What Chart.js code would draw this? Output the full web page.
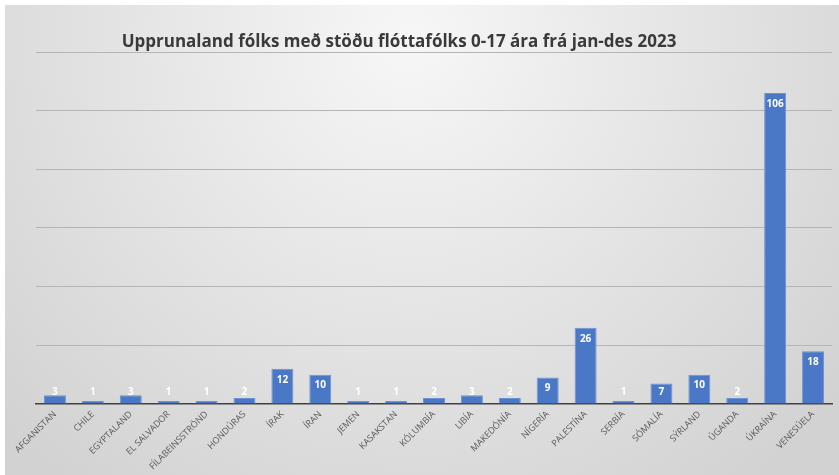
<!DOCTYPE html>
<html>
<head>
<meta charset="utf-8">
<script src="https://cdn.jsdelivr.net/npm/chart.js@4.4.1/dist/chart.umd.min.js"></script>
<style>
  html,body{margin:0;padding:0;background:#fff;}
  #wrap{width:839px;height:475px;position:relative;}
</style>
</head>
<body>
<div id="wrap"><canvas id="refugeeChart"></canvas></div>
<script>
// ============================================================
//  DATA
// ============================================================
const chartTitle='Upprunaland fólks með stöðu flóttafólks 0-17 ára frá jan-des 2023';
const countries=['AFGANISTAN','CHILE','EGYPTALAND','EL SALVADOR','FÍLABEINSSTRÖND','HONDÚRAS','ÍRAK','ÍRAN','JEMEN','KASAKSTAN','KÓLUMBÍA','LIBÍA','MAKEDÓNÍA','NÍGERÍA','PALESTÍNA','SERBÍA','SÓMALÍA','SÝRLAND','ÚGANDA','ÚKRAÍNA','VENESÚELA'];
const counts=[3,1,3,1,1,2,12,10,1,1,2,3,2,9,26,1,7,10,2,106,18];
const yMax=120;
const yStep=20;

// ============================================================
//  PLUGINS
// ============================================================
const bgPlugin={
  id:'bg',
  beforeDraw(chart){
    const c=chart.ctx,w=chart.width,h=chart.height;
    c.save();
    c.fillStyle='#ffffff';
    c.fillRect(0,0,w,h);
    const g=c.createRadialGradient(410,40,10,410,40,560);
    g.addColorStop(0,'#f6f6f6');
    g.addColorStop(1,'#d2d2d2');
    c.fillStyle=g;
    c.fillRect(5,5,w-5,h-5);
    c.restore();
  }
};
const titlePlugin={
  id:'ownTitle',
  afterDraw(chart){
    const c=chart.ctx;
    c.save();
    c.fillStyle='#3a3a3a';
    c.font='bold 17px "Open Sans", sans-serif';
    c.textAlign='center';
    c.textBaseline='middle';
    c.fillText(chartTitle,399,42);
    c.restore();
  }
};
const valuePlugin={
  id:'values',
  afterDatasetsDraw(chart){
    const c=chart.ctx;
    const meta=chart.getDatasetMeta(0);
    c.save();
    c.fillStyle='#ffffff';
    c.font='bold 10px "Open Sans", sans-serif';
    c.textAlign='center';
    c.textBaseline='middle';
    meta.data.forEach((bar,i)=>{
      const y=Math.min(bar.y+11,bar.base-11);
      c.fillText(String(counts[i]),bar.x,y);
    });
    c.restore();
  }
};

// ============================================================
//  CHART
// ============================================================
new Chart(document.getElementById('refugeeChart').getContext('2d'),{
  type:'bar',
  data:{labels:countries,datasets:[{
    data:counts,
    backgroundColor:'#4a78c6',
    borderColor:'#6c92d4',
    borderWidth:{top:1,left:1,right:1,bottom:0},
    categoryPercentage:0.58,
    barPercentage:1,
  }]},
  options:{
    responsive:true,
    maintainAspectRatio:false,
    animation:false,
    layout:{padding:{left:36,right:7,top:52,bottom:-2}},
    plugins:{legend:{display:false},tooltip:{enabled:false},title:{display:false}},
    scales:{
      y:{min:0,max:yMax,ticks:{display:false,stepSize:yStep},
        grid:{color:'#b5b5b5',lineWidth:1,drawTicks:false},border:{display:false}},
      x:{ticks:{color:'#595959',minRotation:45,maxRotation:45,autoSkip:false,padding:5,
          font:{family:'Open Sans',size:9}},
        grid:{display:false,drawTicks:false},border:{color:'#404040',width:1.5}},
    }
  },
  plugins:[bgPlugin,titlePlugin,valuePlugin]
});
</script>
</body>
</html>
